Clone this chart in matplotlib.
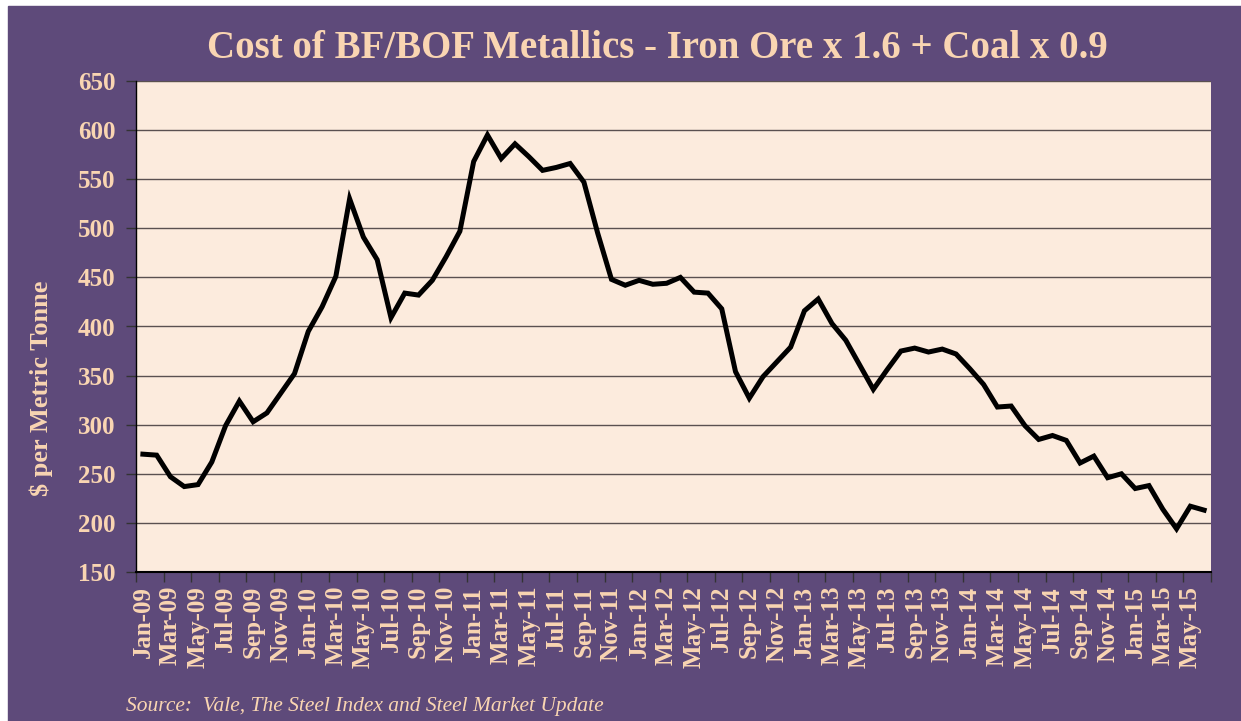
import numpy as np
import matplotlib.pyplot as plt
from matplotlib.patches import Rectangle

# monthly data, Jan-09 .. Jun-15
months = ['Jan', 'Feb', 'Mar', 'Apr', 'May', 'Jun', 'Jul', 'Aug', 'Sep', 'Oct', 'Nov', 'Dec']
labels = [f'{m}-{y:02d}' for y in range(9, 16) for m in months][:78]

cost = [270, 269, 247, 237, 239, 262, 299, 324, 303, 312, 332, 352,
        395, 420, 451, 530, 491, 468, 409, 434, 432, 447, 471, 497,
        568, 595, 571, 586, 573, 559, 562, 566, 547, 495, 448, 442,
        447, 443, 444, 450, 435, 434, 418, 354, 327, 349, 364, 379,
        416, 428, 403, 386, 361, 336, 356, 375, 378, 374, 377, 372,
        357, 341, 318, 319, 299, 285, 289, 284, 261, 268, 246, 250,
        235, 238, 214, 194, 217, 213]

purple = '#5E4A7A'
peach = '#F9D5B2'
plot_bg = '#FCEBDD'
serif = ['Liberation Serif', 'DejaVu Serif']

fig = plt.figure(figsize=(12.41, 7.21), dpi=100, facecolor='white')
fig.patches.append(Rectangle((8 / 1241, 0), 1 - 8 / 1241, 1 - 6 / 721,
                             transform=fig.transFigure, color=purple, zorder=-10))

ax = fig.add_axes([136 / 1241, 1 - 572 / 721, (1211 - 136) / 1241, (572 - 81) / 721])
ax.set_facecolor(plot_bg)

x = np.arange(len(cost))
ax.plot(x, cost, color='black', lw=3.6, solid_joinstyle='miter', zorder=3)

ax.set_xlim(-0.5, len(cost) - 0.5)
ax.set_ylim(150, 650)
ax.set_yticks(range(150, 651, 50))
ax.grid(axis='y', color='#5a5050', lw=1)
ax.set_axisbelow(True)

# tick marks between categories, labels on every other month
ax.set_xticks(np.arange(-0.5, len(cost), 2))
ax.set_xticklabels([])
ax.set_xticks(x[::2], minor=True)
ax.set_xticklabels(labels[::2], minor=True, rotation=90, fontsize=18,
                   fontweight='bold', color=peach, family=serif)
ax.tick_params(axis='x', which='major', length=7, color='#333333', width=1)
ax.tick_params(axis='x', which='minor', length=0, pad=10)
ax.tick_params(axis='y', length=7, color='#333333', width=1, pad=8)
for t in ax.get_yticklabels():
    t.set_fontsize(18)
    t.set_fontweight('bold')
    t.set_color(peach)
    t.set_family(serif)

for s in ['top', 'right']:
    ax.spines[s].set_visible(False)
ax.spines['left'].set_color('black')
ax.spines['left'].set_linewidth(1)
ax.spines['bottom'].set_color('black')
ax.spines['bottom'].set_linewidth(1.5)

ax.set_ylabel('$ per Metric Tonne', fontsize=19, fontweight='bold', color=peach, family=serif)
ax.yaxis.set_label_coords(-0.077, 0.375)

fig.text(0.53, 1 - 48 / 721, 'Cost of BF/BOF Metallics - Iron Ore x 1.6 + Coal x 0.9',
         ha='center', va='center', fontsize=28, fontweight='bold', color=peach, family=serif)
fig.text(126 / 1241, 1 - 706 / 721, 'Source:  Vale, The Steel Index and Steel Market Update',
         ha='left', va='center', fontsize=15.5, style='italic', color=peach, family=serif)

fig.savefig('out.png', dpi=100, facecolor=fig.get_facecolor())
